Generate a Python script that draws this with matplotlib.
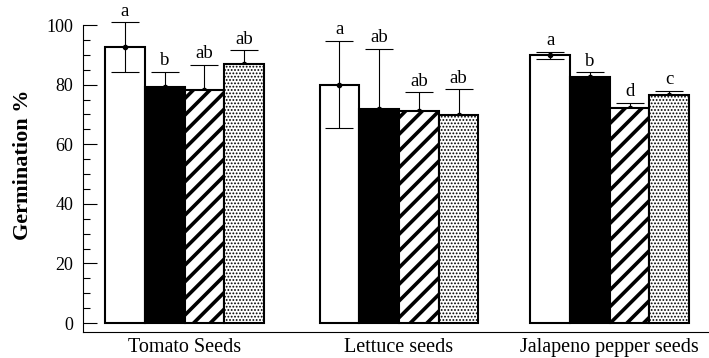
import matplotlib
matplotlib.use("Agg")
import matplotlib.pyplot as plt
import numpy as np
from matplotlib.ticker import MultipleLocator

plt.rcParams['font.family'] = ['Liberation Serif', 'DejaVu Serif']

categories = ["Tomato Seeds", "Lettuce seeds", "Jalapeno pepper seeds"]
treatments = ["T1", "T2", "T3", "T4"]
means = {
    "T1": [92.5, 80.0, 89.8],
    "T2": [79.2, 71.9, 82.4],
    "T3": [78.3, 71.2, 72.0],
    "T4": [87.0, 69.7, 76.6],
}
errors = {
    "T1": [8.4, 14.6, 1.2],
    "T2": [5.2, 20.1, 1.7],
    "T3": [8.4, 6.2, 1.8],
    "T4": [4.5, 8.7, 1.4],
}
letters = {
    "T1": ["a", "a", "a"],
    "T2": ["b", "ab", "b"],
    "T3": ["ab", "ab", "d"],
    "T4": ["ab", "ab", "c"],
}

styles = {
    "T1": dict(facecolor="none", hatch=None),
    "T2": dict(facecolor="black", hatch=None),
    "T3": dict(facecolor="white", hatch="//"),
    "T4": dict(facecolor="white", hatch="....."),
}
hatch_lw = {"T1": 1.0, "T2": 1.0, "T3": 2.6, "T4": 0.85}

fig = plt.figure(figsize=(7.09, 3.58), dpi=100)
ax = fig.add_axes([0.117, 0.0726, 0.883, 0.8575])

group_centers = np.array([2.56, 7.96, 13.27])
width = 1.0
offsets = (np.arange(len(treatments)) - 1.5) * width

for i, t in enumerate(treatments):
    x = group_centers + offsets[i]
    eb = ax.errorbar(x, means[t], yerr=errors[t], fmt='o', color='black',
                     markersize=3, elinewidth=0.8, capsize=10, capthick=0.8,
                     zorder=1)
    for art in eb.lines[1] + eb.lines[2]:
        art.set_clip_on(False)
    eb.lines[0].set_clip_on(False)
    bars = ax.bar(x, means[t], width=width, edgecolor='black', linewidth=1.5,
                  zorder=2, **styles[t])
    for b in bars:
        try:
            b.set_hatch_linewidth(hatch_lw[t])
        except AttributeError:
            pass
    for xi, m, e, lab in zip(x, means[t], errors[t], letters[t]):
        ax.annotate(lab, (xi, m + e), xytext=(0, 2), textcoords='offset points',
                    ha='center', va='bottom', fontsize=13.5,
                    annotation_clip=False)

ax.set_xlim(0, 15.77)
ax.set_ylim(-3, 100)
ax.set_xticks(group_centers)
ax.set_xticklabels(categories, fontsize=14.5)
ax.tick_params(axis='x', length=0, pad=4)
ax.yaxis.set_major_locator(MultipleLocator(20))
ax.yaxis.set_minor_locator(MultipleLocator(5))
ax.tick_params(axis='y', which='major', direction='in', length=10, width=0.8,
               labelsize=13, pad=7)
ax.tick_params(axis='y', which='minor', direction='in', length=5, width=0.8)
ax.set_yticks([0, 20, 40, 60, 80, 100])
for s in ['top', 'right']:
    ax.spines[s].set_visible(False)
ax.spines['left'].set_linewidth(0.8)
ax.spines['bottom'].set_linewidth(0.8)
ax.set_ylabel("Germination %", fontsize=16, fontweight='bold')
ax.yaxis.set_label_coords(-0.080, 0.545)

fig.savefig("out.png", dpi=100)
